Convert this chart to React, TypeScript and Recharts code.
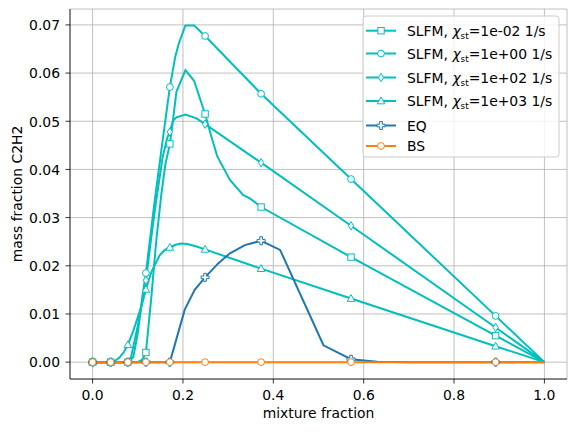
import React from 'react';
import { LineChart, Line, XAxis, YAxis, CartesianGrid } from 'recharts';

const FONT = 'DejaVu Sans';
const CYAN = '#00bfbf';
const BLUE = '#1f77b4';
const ORANGE = '#ff7f0e';

const xTicks = [0, 0.2, 0.4, 0.6, 0.8, 1.0];
const yTicks = [0, 0.01, 0.02, 0.03, 0.04, 0.05, 0.06, 0.07];
const markerX = [0, 0.04, 0.078, 0.118, 0.171, 0.249, 0.373, 0.572, 0.892];

// SLFM chi=1e-02 (square)
const sqX = [0, 0.04, 0.078, 0.1, 0.11, 0.118, 0.13, 0.141, 0.152, 0.161, 0.171, 0.178, 0.1855, 0.2055, 0.2246, 0.249, 0.263, 0.276, 0.304, 0.333, 0.348, 0.373, 0.572, 0.892, 1.0];
const sqY = [0, 0, 0, 0, 0.0005, 0.002, 0.0135, 0.0253, 0.0347, 0.041, 0.0453, 0.0503, 0.0561, 0.0606, 0.0584, 0.0515, 0.0468, 0.0427, 0.0378, 0.0347, 0.034, 0.0322, 0.0218, 0.0055, 0];

// SLFM chi=1e+00 (circle)
const ciX = [0, 0.04, 0.078, 0.09, 0.1, 0.11, 0.118, 0.1375, 0.155, 0.171, 0.183, 0.191, 0.2055, 0.2246, 0.249, 0.373, 0.572, 0.892, 1.0];
const ciY = [0, 0, 0, 0.001, 0.006, 0.0135, 0.0185, 0.0335, 0.046, 0.0571, 0.0634, 0.0662, 0.0699, 0.0699, 0.0677, 0.0557, 0.038, 0.0096, 0];

// SLFM chi=1e+02 (thin diamond)
const diX = [0, 0.04, 0.078, 0.085, 0.1, 0.11, 0.118, 0.13, 0.141, 0.155, 0.165, 0.171, 0.178, 0.1855, 0.2055, 0.23, 0.249, 0.373, 0.572, 0.892, 1.0];
const diY = [0, 0, 0, 0.001, 0.0075, 0.0125, 0.017, 0.026, 0.0337, 0.0425, 0.0465, 0.0478, 0.0501, 0.0508, 0.0514, 0.0506, 0.0494, 0.0414, 0.0283, 0.0072, 0];

// SLFM chi=1e+03 (triangle)
const trX = [0, 0.04, 0.05, 0.06, 0.07, 0.078, 0.09, 0.1, 0.11, 0.118, 0.13, 0.1486, 0.16, 0.171, 0.185, 0.197, 0.21, 0.23, 0.249, 0.373, 0.572, 0.892, 1.0];
const trY = [0, 0, 0.0003, 0.001, 0.0022, 0.0036, 0.0065, 0.0093, 0.0123, 0.0151, 0.0187, 0.0222, 0.0233, 0.0238, 0.0244, 0.0246, 0.0245, 0.024, 0.0234, 0.0194, 0.0132, 0.0033, 0];

// EQ (plus)
const eqX = [0, 0.04, 0.078, 0.118, 0.171, 0.204, 0.226, 0.249, 0.278, 0.304, 0.337, 0.373, 0.415, 0.511, 0.572, 0.63, 0.7, 0.892, 1.0];
const eqY = [0, 0, 0, 0, 0, 0.0109, 0.015, 0.0176, 0.0205, 0.0226, 0.0243, 0.0252, 0.0233, 0.0035, 0.0006, 0.0001, 0, 0, 0];

// BS (circle)
const bsX = [0, 0.04, 0.078, 0.118, 0.171, 0.249, 0.373, 0.572, 0.892, 1.0];
const bsY = [0, 0, 0, 0, 0, 0, 0, 0, 0, 0];

const rows = (xs: number[], ys: number[]) => xs.map((x, i) => ({ x, y: ys[i] }));

type Shape = 'square' | 'circle' | 'diamond' | 'triangle' | 'plus';

function Marker({ shape, cx, cy, color }: { shape: Shape; cx: number; cy: number; color: string }) {
  const common = { fill: '#ffffff', stroke: color, strokeWidth: 1 };
  if (shape === 'square') return <rect x={cx - 3.2} y={cy - 3.2} width={6.4} height={6.4} {...common} />;
  if (shape === 'circle') return <circle cx={cx} cy={cy} r={3.4} {...common} />;
  if (shape === 'diamond') {
    const p = `${cx},${cy - 4.2} ${cx + 2.6},${cy} ${cx},${cy + 4.2} ${cx - 2.6},${cy}`;
    return <polygon points={p} {...common} />;
  }
  if (shape === 'triangle') {
    const p = `${cx},${cy - 4} ${cx + 3.8},${cy + 2.8} ${cx - 3.8},${cy + 2.8}`;
    return <polygon points={p} {...common} />;
  }
  const a = 1.3, b = 4;
  const p = [
    [-a, -b], [a, -b], [a, -a], [b, -a], [b, a], [a, a], [a, b], [-a, b], [-a, a], [-b, a], [-b, -a], [-a, -a],
  ].map(([dx, dy]) => `${cx + dx},${cy + dy}`).join(' ');
  return <polygon points={p} {...common} />;
}

const makeDot = (shape: Shape, color: string) => (props: any) => {
  const { cx, cy, payload, index } = props;
  const isMarker = markerX.some((m) => Math.abs(m - payload.x) < 1e-9);
  if (!isMarker || cx == null || cy == null) return <g key={`d-${index}`} />;
  return (
    <g key={`d-${index}`}>
      <Marker shape={shape} cx={cx} cy={cy} color={color} />
    </g>
  );
};

const series: { name: string; xs: number[]; ys: number[]; shape: Shape; color: string }[] = [
  { name: 'sq', xs: sqX, ys: sqY, shape: 'square', color: CYAN },
  { name: 'ci', xs: ciX, ys: ciY, shape: 'circle', color: CYAN },
  { name: 'di', xs: diX, ys: diY, shape: 'diamond', color: CYAN },
  { name: 'tr', xs: trX, ys: trY, shape: 'triangle', color: CYAN },
  { name: 'eq', xs: eqX, ys: eqY, shape: 'plus', color: BLUE },
  { name: 'bs', xs: bsX, ys: bsY, shape: 'circle', color: ORANGE },
];

const chiLabels = ['1e-02', '1e+00', '1e+02', '1e+03'];

const XTick = (props: any) => {
  const { x, payload } = props;
  return (
    <text x={x} y={400} textAnchor="middle" fontFamily={FONT} fontSize={13.9} fill="#000">
      {payload.value.toFixed(1)}
    </text>
  );
};

const YTick = (props: any) => {
  const { y, payload } = props;
  return (
    <text x={60} y={y + 5.3} textAnchor="end" fontFamily={FONT} fontSize={13.9} fill="#000">
      {payload.value.toFixed(2)}
    </text>
  );
};

const XLabel = (props: any) => {
  const vb = props.viewBox || {};
  const cx = (vb.x ?? 70) + (vb.width ?? 497) / 2;
  return (
    <text x={cx} y={418} textAnchor="middle" fontFamily={FONT} fontSize={13.9} fill="#000">
      mixture fraction
    </text>
  );
};

const YLabel = (props: any) => {
  const vb = props.viewBox || {};
  const cy = (vb.y ?? 9) + (vb.height ?? 370) / 2;
  return (
    <text x={22} y={cy} transform={`rotate(-90, 22, ${cy})`} textAnchor="middle" fontFamily={FONT} fontSize={13.9} fill="#000">
      mass fraction C2H2
    </text>
  );
};

function LegendBox() {
  const rowsY = [30.7, 53.5, 77.5, 101, 125.5, 146];
  const entries = [
    ...chiLabels.map((c, i) => ({ kind: 'chi', c, shape: series[i].shape, color: CYAN })),
    { kind: 'plain', c: 'EQ', shape: 'plus' as Shape, color: BLUE },
    { kind: 'plain', c: 'BS', shape: 'circle' as Shape, color: ORANGE },
  ];
  return (
    <svg width={576} height={432} style={{ position: 'absolute', left: 0, top: 0, pointerEvents: 'none' }}>
      <rect x={363} y={16} width={196} height={141} rx={3} fill="#ffffff" fillOpacity={0.8} stroke="#cccccc" strokeWidth={1} />
      {entries.map((e, i) => {
        const cy = rowsY[i];
        return (
          <g key={i}>
            <line x1={366} x2={396} y1={cy} y2={cy} stroke={e.color} strokeWidth={2} />
            <Marker shape={e.shape} cx={381} cy={cy} color={e.color} />
            {e.kind === 'chi' ? (
              <text x={407} y={cy + 5} fontFamily={FONT} fontSize={13.9} fill="#000">
                SLFM, <tspan fontStyle="italic">χ</tspan>
                <tspan fontSize={8.8} dy={3}>st</tspan>
                <tspan dy={-3}>={e.c} 1/s</tspan>
              </text>
            ) : (
              <text x={407} y={cy + 5} fontFamily={FONT} fontSize={13.9} fill="#000">
                {e.c}
              </text>
            )}
          </g>
        );
      })}
    </svg>
  );
}

export default function App() {
  return (
    <div style={{ position: 'absolute', left: 0, top: 0, width: 576, height: 432, background: '#fff' }}>
      <LineChart width={576} height={432} margin={{ top: 9, right: 9, left: 0, bottom: 0 }}>
        <CartesianGrid stroke="#b0b0b0" strokeWidth={0.8} />
        <XAxis
          dataKey="x"
          type="number"
          domain={[-0.05, 1.05]}
          allowDataOverflow
          ticks={xTicks}
          height={53}
          tick={<XTick />}
          tickSize={4.5}
          tickLine={{ stroke: '#000', strokeWidth: 0.8 }}
          axisLine={{ stroke: '#000', strokeWidth: 0.8 }}
          label={<XLabel />}
        />
        <XAxis
          xAxisId="top"
          orientation="top"
          type="number"
          domain={[-0.05, 1.05]}
          height={0}
          tick={false}
          tickLine={false}
          axisLine={{ stroke: '#000', strokeWidth: 0.8 }}
        />
        <YAxis
          type="number"
          domain={[-0.0035, 0.0733]}
          allowDataOverflow
          ticks={yTicks}
          width={70}
          tick={<YTick />}
          tickSize={4.5}
          tickLine={{ stroke: '#000', strokeWidth: 0.8 }}
          axisLine={{ stroke: '#000', strokeWidth: 0.8 }}
          label={<YLabel />}
        />
        <YAxis
          yAxisId="right"
          orientation="right"
          type="number"
          domain={[-0.0035, 0.0733]}
          width={0}
          tick={false}
          tickLine={false}
          axisLine={{ stroke: '#000', strokeWidth: 0.8 }}
        />
        {series.map((s) => (
          <Line
            key={s.name}
            data={rows(s.xs, s.ys)}
            dataKey="y"
            type="linear"
            stroke={s.color}
            strokeWidth={2}
            dot={makeDot(s.shape, s.color)}
            activeDot={false}
            isAnimationActive={false}
          />
        ))}
      </LineChart>
      <LegendBox />
    </div>
  );
}
